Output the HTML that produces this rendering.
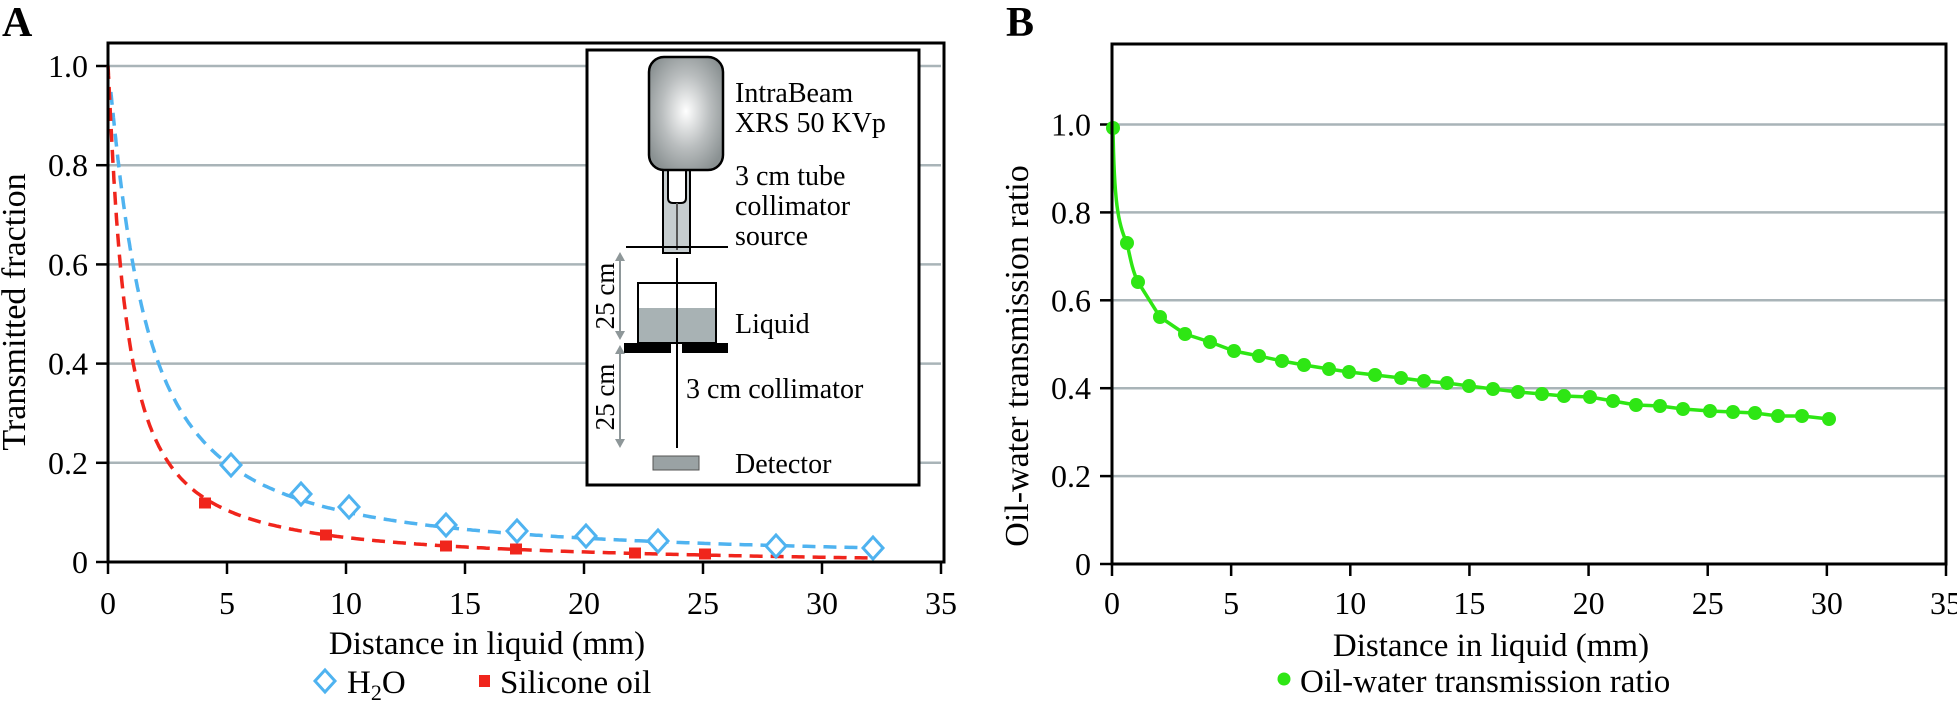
<!DOCTYPE html>
<html><head><meta charset="utf-8">
<style>
html,body{margin:0;padding:0;background:#fff;}
svg{display:block;font-family:"Liberation Serif",serif;}
</style></head>
<body>
<svg id="s" width="1957" height="703" viewBox="0 0 1957 703" xmlns="http://www.w3.org/2000/svg">
<defs>
<radialGradient id="tg" cx="0.5" cy="0.48" r="0.6">
<stop offset="0" stop-color="#ffffff"/>
<stop offset="0.55" stop-color="#b9bdbe"/>
<stop offset="1" stop-color="#8a9192"/>
</radialGradient>
</defs>
<g id="A"></g>
<g id="B"></g>
</svg>
<script>
const NS="http://www.w3.org/2000/svg";
function el(parent,tag,attrs,text){const e=document.createElementNS(NS,tag);for(const k in attrs)e.setAttribute(k,attrs[k]);if(text!==undefined)e.textContent=text;parent.appendChild(e);return e;}
const s=document.getElementById('s');
const gA=document.getElementById('A'), gB=document.getElementById('B');
const grid="#a9b4b8";
const TF=32;

// ---------- Panel A ----------
const ax0=108, ax1=941, ay0=562, atop=43;
const AX=x=>ax0+x*(ax1-ax0)/35, AY=y=>ay0-y*496;
el(gA,'text',{x:2,y:36,'font-size':42,'font-weight':'bold'},'A');
[0.2,0.4,0.6,0.8,1.0].forEach(v=>el(gA,'line',{x1:ax0,x2:ax1,y1:AY(v),y2:AY(v),stroke:grid,'stroke-width':2.5}));
[0,0.2,0.4,0.6,0.8,1.0].forEach(v=>{
 el(gA,'line',{x1:ax0-12,x2:ax0,y1:AY(v),y2:AY(v),stroke:'#000','stroke-width':2.5});
 el(gA,'text',{x:88,y:AY(v)+11,'font-size':TF,'text-anchor':'end'},v===0?'0':v.toFixed(1));
});
for(let k=0;k<=7;k++){const x=AX(5*k);
 el(gA,'line',{x1:x,x2:x,y1:ay0,y2:ay0+12,stroke:'#000','stroke-width':2.5});
 el(gA,'text',{x:x,y:614,'font-size':TF,'text-anchor':'middle'},String(5*k));}
function path(f,x0,x1,X,Y){let d='';for(let i=0;i<=400;i++){const x=x0+(x1-x0)*Math.pow(i/400,1.8);d+=(i?'L':'M')+X(x).toFixed(1)+','+Y(f(x)).toFixed(1);}return d;}
const fb=x=>1/(1+0.63*Math.pow(x,1.15));
const fr=x=>1/(1+1.4*Math.pow(x,1.12))-0.0002*x;
el(gA,'path',{d:path(fb,0.12,32,AX,AY),fill:'none',stroke:'#4fb3f0','stroke-width':3.5,'stroke-dasharray':'13 8'});
el(gA,'path',{d:path(fr,0,32,AX,AY),fill:'none',stroke:'#f0251c','stroke-width':3.5,'stroke-dasharray':'13 8'});
[[231,465],[301,494],[349,507],[446,525],[517,531],[586,536],[658,541],[776,546],[873,548]].forEach(p=>{
 el(gA,'path',{d:`M${p[0]},${p[1]-11}L${p[0]+10},${p[1]}L${p[0]},${p[1]+11}L${p[0]-10},${p[1]}Z`,fill:'#fff',stroke:'#4fb3f0','stroke-width':3});});
[[205,503],[326,535],[446,546],[516,549],[635,553],[705,554]].forEach(p=>{
 el(gA,'rect',{x:p[0]-6,y:p[1]-5.5,width:12,height:11,fill:'#f0251c'});});
el(gA,'rect',{x:ax0,y:atop,width:ax1+3-ax0,height:ay0-atop,fill:'none',stroke:'#000','stroke-width':3});
el(gA,'text',{x:0,y:0,'font-size':34,'text-anchor':'middle',transform:'translate(25,312) rotate(-90)'},'Transmitted fraction');
el(gA,'text',{x:487,y:654,'font-size':33,'text-anchor':'middle'},'Distance in liquid (mm)');
el(gA,'path',{d:'M325,670L335,681L325,692L315,681Z',fill:'#fff',stroke:'#4fb3f0','stroke-width':3});
const t=el(gA,'text',{x:347,y:693,'font-size':33});
t.innerHTML='H<tspan font-size="22" dy="7">2</tspan><tspan dy="-7">O</tspan>';
el(gA,'rect',{x:479,y:675,width:11,height:12,fill:'#f0251c'});
el(gA,'text',{x:500,y:693,'font-size':33},'Silicone oil');

const gi=el(gA,'g',{});
el(gi,'rect',{x:587,y:50,width:332,height:435,fill:'#fff',stroke:'#000','stroke-width':3});
el(gi,'rect',{x:663,y:165,width:27,height:88,fill:'#c6cdcf',stroke:'#000','stroke-width':2});
el(gi,'path',{d:'M668,168L668,198Q668,203 673,203L681,203Q686,203 686,198L686,168Z',fill:'#fff',stroke:'#000','stroke-width':2});
el(gi,'line',{x1:677,x2:677,y1:203,y2:250,stroke:'#555','stroke-width':2});
el(gi,'rect',{x:649,y:57,width:74,height:113,rx:15,fill:'url(#tg)',stroke:'#000','stroke-width':2.5});
el(gi,'line',{x1:626,x2:728,y1:247,y2:247,stroke:'#000','stroke-width':2});
el(gi,'line',{x1:677,x2:677,y1:258,y2:448,stroke:'#000','stroke-width':2});
el(gi,'rect',{x:638,y:308,width:78,height:35,fill:'#a8b2b4'});
el(gi,'rect',{x:638,y:283,width:78,height:60,fill:'none',stroke:'#000','stroke-width':2});
el(gi,'line',{x1:677,x2:677,y1:283,y2:343,stroke:'#000','stroke-width':2});
el(gi,'rect',{x:624,y:343,width:47,height:10,fill:'#000'});
el(gi,'rect',{x:682,y:343,width:46,height:10,fill:'#000'});
el(gi,'rect',{x:653,y:456,width:46,height:14,fill:'#9aa2a4',stroke:'#555','stroke-width':1});
[[252,340],[345,448]].forEach(a=>{
 el(gi,'line',{x1:620,x2:620,y1:a[0]+6,y2:a[1]-6,stroke:'#8e9799','stroke-width':2});
 el(gi,'path',{d:`M615,${a[0]+9}L620,${a[0]}L625,${a[0]+9}Z`,fill:'#8e9799'});
 el(gi,'path',{d:`M615,${a[1]-9}L620,${a[1]}L625,${a[1]-9}Z`,fill:'#8e9799'});
});
el(gi,'text',{x:0,y:0,'font-size':27,'text-anchor':'middle',transform:'translate(614,296) rotate(-90)'},'25 cm');
el(gi,'text',{x:0,y:0,'font-size':27,'text-anchor':'middle',transform:'translate(614,397) rotate(-90)'},'25 cm');
[['IntraBeam',735,102],['XRS 50 KVp',735,132],['3 cm tube',735,185],['collimator',735,215],['source',735,245],['Liquid',735,333],['3 cm collimator',686,398],['Detector',735,473]].forEach(l=>el(gi,'text',{x:l[1],y:l[2],'font-size':28},l[0]));

// ---------- Panel B ----------
const bx0=1112,bx1=1946,by0=564,btop=44;
const BX=x=>bx0+x*(bx1-bx0)/35, BY=y=>by0-y*439.5;
el(gB,'text',{x:1006,y:36,'font-size':42,'font-weight':'bold'},'B');
[0.2,0.4,0.6,0.8,1.0].forEach(v=>el(gB,'line',{x1:bx0,x2:bx1,y1:BY(v),y2:BY(v),stroke:grid,'stroke-width':2.5}));
[0,0.2,0.4,0.6,0.8,1.0].forEach(v=>{
 el(gB,'line',{x1:bx0-12,x2:bx0,y1:BY(v),y2:BY(v),stroke:'#000','stroke-width':2.5});
 el(gB,'text',{x:1091,y:BY(v)+11,'font-size':TF,'text-anchor':'end'},v===0?'0':v.toFixed(1));
});
for(let k=0;k<=7;k++){const x=BX(5*k);
 el(gB,'line',{x1:x,x2:x,y1:by0,y2:by0+12,stroke:'#000','stroke-width':2.5});
 el(gB,'text',{x:x,y:614,'font-size':TF,'text-anchor':'middle'},String(5*k));}
const pts=[[1113,128],[1127,243],[1138,282],[1160,317],[1185,334],[1210,342],[1234,351],[1259,356],[1282,361],[1304,365],[1329,369],[1349,372],[1375,375],[1401,378],[1424,381],[1447,383],[1469,386],[1493,389],[1518,392],[1542,394],[1564,396],[1590,397],[1613,401],[1636,405],[1660,406],[1683,409],[1710,411],[1733,412],[1755,413],[1778,416],[1802,416],[1829,419]];
let d='M1113,128 C1114,200 1118,225 1127,243 C1131,262 1133,272 1138,282';
for(let i=3;i<pts.length;i++)d+='L'+pts[i][0]+','+pts[i][1];
el(gB,'path',{d:d,fill:'none',stroke:'#2ee614','stroke-width':3.5,'stroke-linejoin':'round'});
pts.forEach(p=>el(gB,'circle',{cx:p[0],cy:p[1],r:7,fill:'#2ee614'}));
el(gB,'rect',{x:bx0,y:btop,width:bx1-bx0,height:by0-btop,fill:'none',stroke:'#000','stroke-width':3});
el(gB,'text',{x:0,y:0,'font-size':34,'text-anchor':'middle',transform:'translate(1028,356) rotate(-90)'},'Oil-water transmission ratio');
el(gB,'text',{x:1491,y:656,'font-size':33,'text-anchor':'middle'},'Distance in liquid (mm)');
el(gB,'circle',{cx:1284,cy:679,r:6.5,fill:'#2ee614'});
el(gB,'text',{x:1300,y:692,'font-size':33},'Oil-water transmission ratio');
</script>
</body></html>
